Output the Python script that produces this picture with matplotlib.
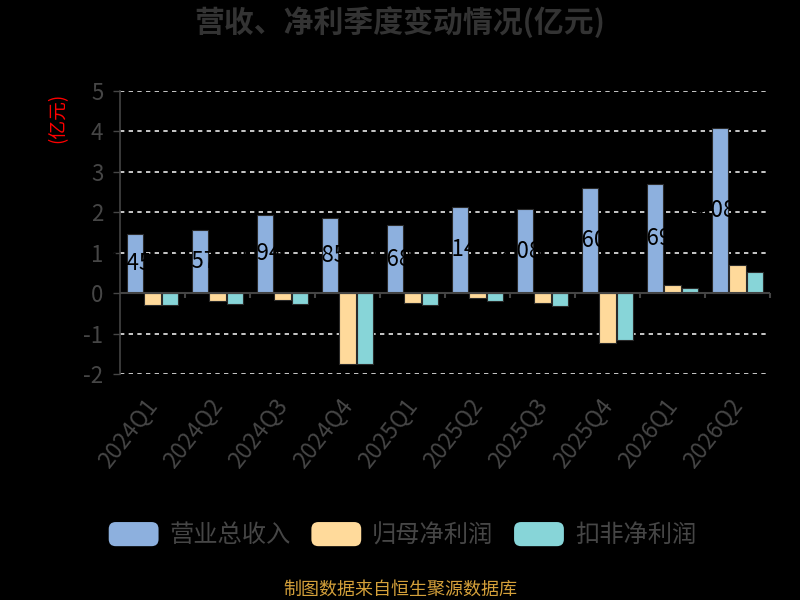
import numpy as np
import matplotlib
matplotlib.use("Agg")
import matplotlib.pyplot as plt
from matplotlib.patches import FancyBboxPatch, Patch
from matplotlib.legend_handler import HandlerPatch

plt.rcParams['font.family'] = ['Noto Sans CJK SC', 'DejaVu Sans']
plt.rcParams['axes.unicode_minus'] = False

# data (亿元)
quarters = ["2024Q1", "2024Q2", "2024Q3", "2024Q4", "2025Q1",
            "2025Q2", "2025Q3", "2025Q4", "2026Q1", "2026Q2"]
revenue = [1.45, 1.57, 1.94, 1.85, 1.68, 2.14, 2.08, 2.60, 2.69, 4.08]
net_profit = [-0.29, -0.20, -0.17, -1.76, -0.25, -0.11, -0.24, -1.24, 0.21, 0.70]
deducted_profit = [-0.30, -0.27, -0.26, -1.76, -0.29, -0.20, -0.32, -1.15, 0.13, 0.53]
series_names = ["营业总收入", "归母净利润", "扣非净利润"]
colors = ["#8DB0DE", "#FFDA9B", "#87D5D8"]

text_gray = "#464646"


class RoundHandler(HandlerPatch):
    def create_artists(self, legend, orig_handle, xdescent, ydescent,
                       width, height, fontsize, trans):
        p = FancyBboxPatch((-xdescent + 3, -ydescent + 3), width - 6, height - 6,
                           boxstyle="round,pad=3,rounding_size=5",
                           facecolor=orig_handle.get_facecolor(),
                           edgecolor="none", transform=trans)
        return [p]


fig = plt.figure(figsize=(8, 6), dpi=100, facecolor="black")
ax = fig.add_axes([0.15, 0.3767, 0.8125, 0.4717])
ax.set_facecolor("black")

x = np.arange(len(quarters))
w = 0.255
step = 0.27
all_series = [revenue, net_profit, deducted_profit]
for i, vals in enumerate(all_series):
    bars = ax.bar(x + (i - 1) * step, vals, width=w, color=colors[i],
                  edgecolor="#2a2a2a", linewidth=0.8, zorder=3)
    if i == 0:
        for b, v in zip(bars, vals):
            ax.annotate(f"{v:.2f}", (b.get_x() + b.get_width() / 2, v / 2),
                        xytext=(-4, 0), textcoords="offset points",
                        ha="center", va="center", fontsize=16,
                        color="black", zorder=4)

ax.set_xlim(-0.5, len(quarters) - 0.5)
ax.set_ylim(-2, 5)
ax.set_yticks(range(-2, 6))
ax.tick_params(axis="y", colors=text_gray, labelsize=16, length=5,
               width=1, pad=7)
for t in ax.get_yticklabels():
    t.set_color(text_gray)

ax.yaxis.grid(True, linestyle=(0, (2.4, 2.4)), color="#d8d8d8",
              linewidth=1.3, zorder=1)
ax.set_axisbelow(True)

for s in ["top", "right", "bottom"]:
    ax.spines[s].set_visible(False)
ax.spines["left"].set_color("#444444")
ax.spines["left"].set_linewidth(1.2)

# zero axis line with category separators
ax.axhline(0, color="#444444", linewidth=1.5, zorder=4)
bounds = np.arange(len(quarters) + 1) - 0.5
ax.vlines(bounds[1:], -0.13, 0, color="#444444", linewidth=1.5,
          clip_on=False, zorder=4)

ax.set_xticks(x)
ax.set_xticklabels(quarters, rotation=52, ha="right", va="center",
                   rotation_mode="anchor", fontsize=16.5, color=text_gray)
ax.tick_params(axis="x", length=0, pad=20)

ax.set_ylabel("(亿元)", color="red", fontsize=13.5)
ax.yaxis.set_label_coords(-0.079, 0.905)

fig.text(0.5, 0.963, "营收、净利季度变动情况(亿元)", ha="center", va="center",
         fontsize=21.5, fontweight="bold", color="#333333")

handles = [Patch(facecolor=c, label=n) for c, n in zip(colors, series_names)]
leg = fig.legend(handles=handles, loc="center", bbox_to_anchor=(0.503, 0.108),
                 ncol=3, frameon=False, fontsize=17.5,
                 handlelength=2.05, handleheight=1.15, handletextpad=0.45,
                 columnspacing=0.85, handler_map={Patch: RoundHandler()})
for t in leg.get_texts():
    t.set_color(text_gray)

fig.text(0.5, 0.017, "制图数据来自恒生聚源数据库", ha="center", va="center",
         fontsize=13, color="#D4A03A")

fig.savefig("out.png", dpi=100, facecolor="black")
